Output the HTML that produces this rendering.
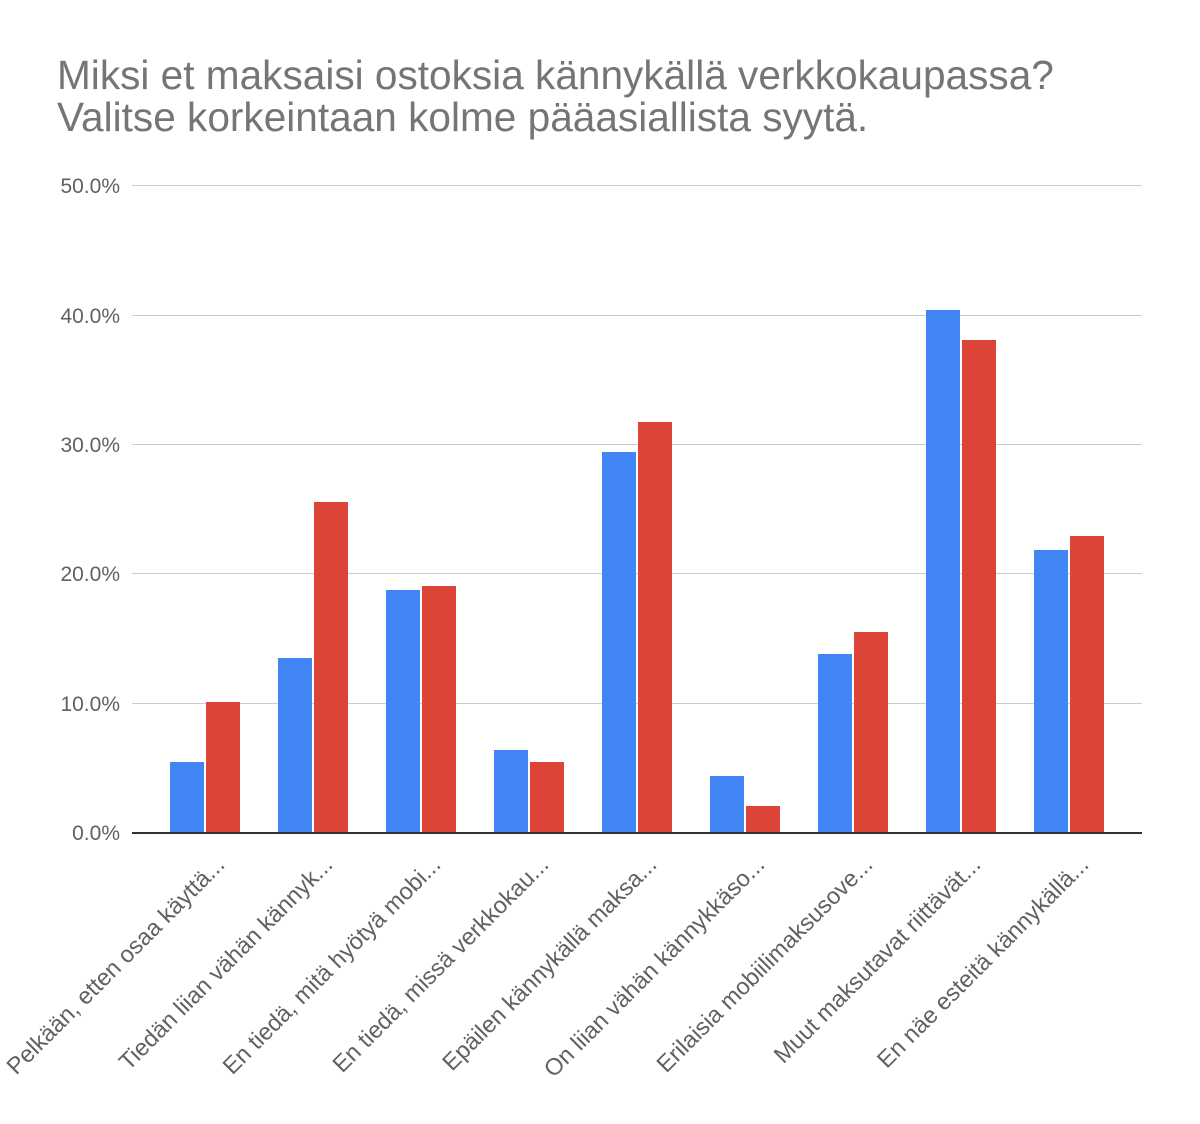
<!DOCTYPE html>
<html><head><meta charset="utf-8"><style>
body{margin:0;background:#fff}
svg{display:block}
text{font-family:"Liberation Sans",Arial,sans-serif}
</style></head><body>
<svg width="1200" height="1124" xmlns="http://www.w3.org/2000/svg">
<rect width="1200" height="1124" fill="#fff"/>
<text x="57" y="89" font-size="40.6" fill="#757575">Miksi et maksaisi ostoksia kännykällä verkkokaupassa?</text>
<text x="57" y="131" font-size="40.6" fill="#757575">Valitse korkeintaan kolme pääasiallista syytä.</text>
<g stroke="#cccccc" stroke-width="1">
<line x1="132" x2="1142" y1="185.5" y2="185.5"/>
<line x1="132" x2="1142" y1="315.5" y2="315.5"/>
<line x1="132" x2="1142" y1="444.5" y2="444.5"/>
<line x1="132" x2="1142" y1="573.5" y2="573.5"/>
<line x1="132" x2="1142" y1="703.5" y2="703.5"/>
</g>
<g font-size="21" fill="#616161" text-anchor="end">
<text x="120" y="193">50.0%</text>
<text x="120" y="323">40.0%</text>
<text x="120" y="452">30.0%</text>
<text x="120" y="581">20.0%</text>
<text x="120" y="711">10.0%</text>
<text x="120" y="840">0.0%</text>
</g>
<g fill="#4285f4">
<rect x="170" y="762" width="34" height="71"/>
<rect x="278" y="658" width="34" height="175"/>
<rect x="386" y="590" width="34" height="243"/>
<rect x="494" y="750" width="34" height="83"/>
<rect x="602" y="452" width="34" height="381"/>
<rect x="710" y="776" width="34" height="57"/>
<rect x="818" y="654" width="34" height="179"/>
<rect x="926" y="310" width="34" height="523"/>
<rect x="1034" y="550" width="34" height="283"/>
</g>
<g fill="#db4437">
<rect x="206" y="702" width="34" height="131"/>
<rect x="314" y="502" width="34" height="331"/>
<rect x="422" y="586" width="34" height="247"/>
<rect x="530" y="762" width="34" height="71"/>
<rect x="638" y="422" width="34" height="411"/>
<rect x="746" y="806" width="34" height="27"/>
<rect x="854" y="632" width="34" height="201"/>
<rect x="962" y="340" width="34" height="493"/>
<rect x="1070" y="536" width="34" height="297"/>
</g>
<line x1="132" x2="1142" y1="833" y2="833" stroke="#333" stroke-width="2"/>
<g font-size="23.5" fill="#616161" text-anchor="end">
<text transform="translate(226,866) rotate(-45)">Pelkään, etten osaa käyttä...</text>
<text transform="translate(334,866) rotate(-45)">Tiedän liian vähän kännyk...</text>
<text transform="translate(442,866) rotate(-45)">En tiedä, mitä hyötyä mobi...</text>
<text transform="translate(550,866) rotate(-45)">En tiedä, missä verkkokau...</text>
<text transform="translate(658,866) rotate(-45)">Epäilen kännykällä maksa...</text>
<text transform="translate(766,866) rotate(-45)">On liian vähän kännykkäso...</text>
<text transform="translate(874,866) rotate(-45)">Erilaisia mobiilimaksusove...</text>
<text transform="translate(982,866) rotate(-45)">Muut maksutavat riittävät...</text>
<text transform="translate(1090,866) rotate(-45)">En näe esteitä kännykällä...</text>
</g>
</svg>
</body></html>
